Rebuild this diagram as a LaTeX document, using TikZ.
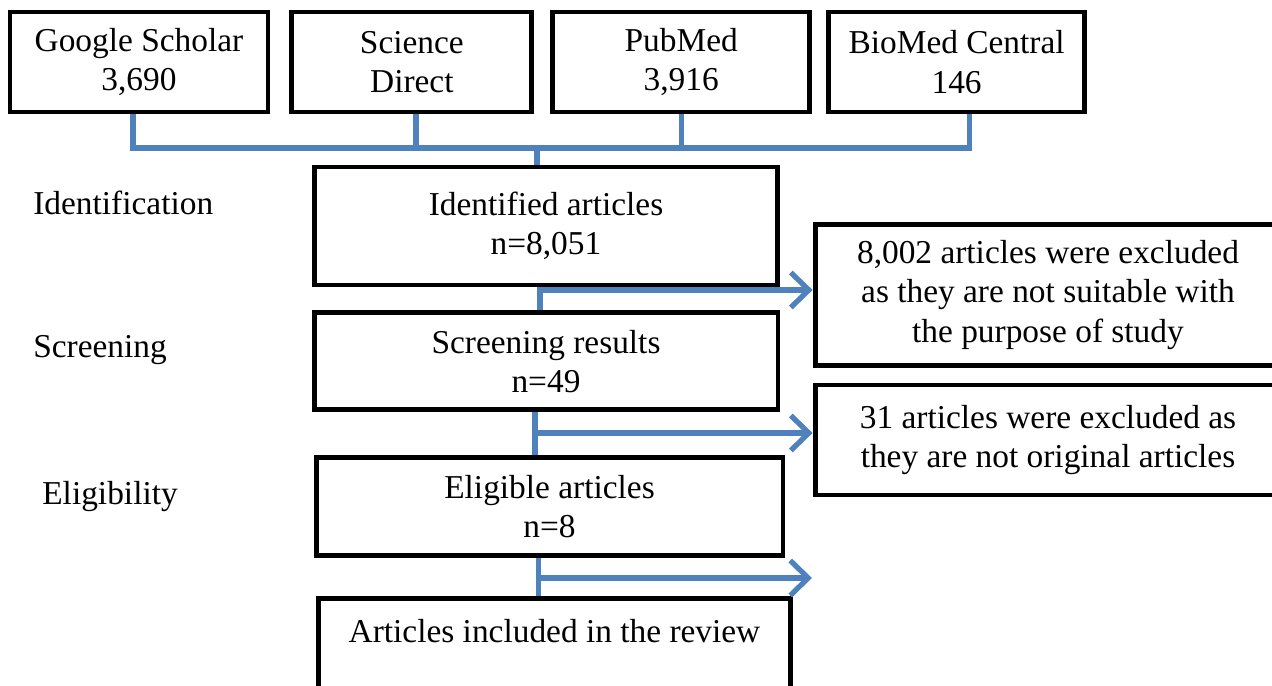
\documentclass[tikz,border=0pt]{standalone}
\usepackage{fontspec}
\setmainfont{Liberation Serif}
\usepackage{tikz}
\usetikzlibrary{arrows.meta,positioning}
\definecolor{flowblue}{RGB}{79,129,189}
\tikzstyle{srcbox} = [rectangle, draw=black, line width=2.8pt, minimum height=2cm, align=center, inner sep=0pt]
\tikzstyle{stagebox} = [rectangle, draw=black, line width=2.8pt, minimum height=1.96cm, align=center, inner sep=0pt]
\tikzstyle{exclbox} = [stagebox, minimum width=9.32cm]
\tikzstyle{phase} = [anchor=west, inner sep=0pt]
\tikzstyle{link} = [line width=3pt, color=flowblue]
\tikzstyle{arrow} = [link, -{Straight Barb[length=3.6mm,width=7mm]}]

\begin{document}
\begin{tikzpicture}[x=0.02cm, y=-0.02cm, font=\fontsize{19}{22.5}\selectfont]
\clip (0,0) rectangle (1272,686);
% Databases
\node[srcbox, minimum width=5.16cm] (scholar) at (139,62) {Google Scholar\\3,690};
\node[srcbox, minimum width=4.8cm, right=0.38cm of scholar] (direct) {Science\\Direct};
\node[srcbox, minimum width=5.14cm, right=0.32cm of direct] (pubmed) {PubMed\\3,916};
\node[srcbox, minimum width=5.12cm, right=0.28cm of pubmed] (biomed) {BioMed Central\\146};

% Stages
\node[stagebox, minimum width=9.26cm, minimum height=2.36cm] (ident) at (546,226) {Identified articles\\n=8,051};
\node[stagebox, minimum width=9.28cm, minimum height=1.94cm, below=0.46cm of ident] (screen) {Screening results\\n=49};
\node[stagebox, minimum width=9.34cm, below=0.86cm of screen, xshift=0.07cm] (elig) {Eligible articles\\n=8};
\node[stagebox, minimum width=9.46cm, minimum height=2.1cm, below=0.76cm of elig, xshift=0.1cm] (final) {Articles included in the review\\\mbox{}};

% Exclusions
\node[exclbox, minimum height=2.82cm] (excl1) at (1048,295) {8,002 articles were excluded\\as they are not suitable with\\the purpose of study};
\node[exclbox, minimum height=2.2cm] (excl2) at (1048,440) {31 articles were excluded as\\they are not original articles};

% Phase labels
\node[phase] (lident) at (33,203) {Identification};
\node[phase] (lscreen) at (33,350) {Screening};
\node[phase] (lelig) at (42,497) {Eligibility};

% Connectors
\coordinate (bus) at (537,148);
\draw[link] ([xshift=-0.12cm]scholar.south) |- (bus);
\draw[link] ([xshift=0.08cm]direct.south) |- (bus);
\draw[link] (pubmed.south) |- (bus);
\draw[link] ([xshift=0.26cm]biomed.south) |- (bus);
\draw[link] (bus) -- (bus |- ident.north);

\draw[link] ([xshift=-0.12cm]ident.south) -- ([xshift=-0.12cm]ident.south |- screen.north);
\draw[arrow] ([xshift=-0.12cm]ident.south |- 0,290) -- (excl1.west |- 0,290);
\draw[link] ([xshift=-0.22cm]screen.south) -- ([xshift=-0.22cm]screen.south |- elig.north);
\draw[arrow] ([xshift=-0.22cm]screen.south |- 0,433) -- (excl2.west |- 0,433);
\draw[link] ([xshift=-0.22cm]elig.south) -- ([xshift=-0.22cm]elig.south |- final.north);
\coordinate (open) at (812,578);
\draw[arrow] ([xshift=-0.22cm]elig.south |- open) -- (open);
\end{tikzpicture}
\end{document}
